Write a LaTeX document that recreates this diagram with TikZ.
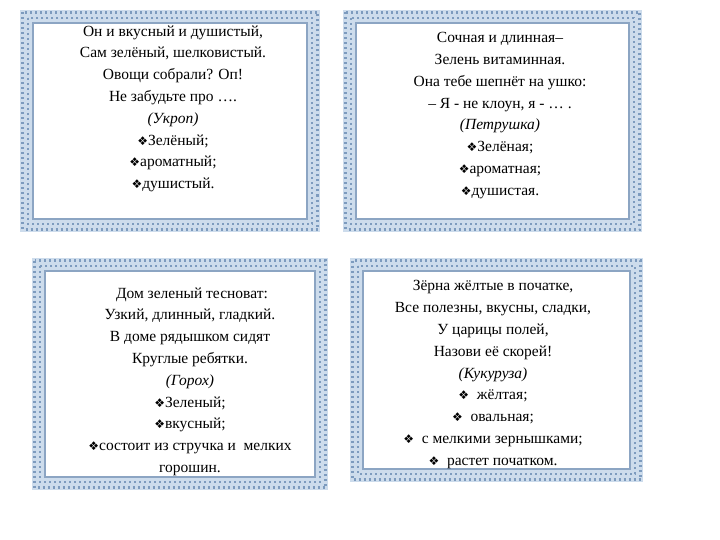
\documentclass[tikz,border=0pt]{standalone}
\usepackage{fontspec}
\setmainfont{Liberation Serif}
\newfontfamily\serf{Liberation Serif}
\newfontfamily\symf{DejaVu Sans}
\newcommand{\bul}{{\symf\fontsize{12}{12}\selectfont ❖}}
\definecolor{bandc}{RGB}{205,220,236}
\definecolor{dotc}{RGB}{125,155,190}
\definecolor{innc}{RGB}{140,165,195}
\begin{document}
\begin{tikzpicture}[x=1pt,y=-1pt,
  band/.style={draw=bandc,line width=12pt},
  dots/.style={draw=dotc,line width=2.5pt,dash pattern=on 2pt off 3pt},
  inner/.style={draw=innc,line width=1.2pt},
  txt/.style={align=center,font=\serf\fontsize{15.5}{21.8}\selectfont,anchor=north}]
\useasboundingbox (0,0) rectangle (720,540);
\newcommand{\card}[4]{%
  \draw[band] (#1+6,#2+6) rectangle (#3-6,#4-6);
  \draw[dots] (#1+2.5,#2+2.5) rectangle (#3-2.5,#4-2.5);
  \draw[dots] (#1+8,#2+8) rectangle (#3-8,#4-8);
  \draw[inner] (#1+13,#2+13) rectangle (#3-13,#4-13);}
\card{20}{10}{320}{232}
\card{343}{10}{642}{232}
\card{32}{258}{328}{490}
\card{350}{258}{643}{482}
\node[txt] (a) at (173,22) {Он и вкусный и душистый,\\Сам зелёный, шелковистый.\\Овощи собрали? Оп!\\Не забудьте про ….\\\textit{(Укроп)}\\\bul Зелёный;\\\bul ароматный;\\\bul душистый.};
\node[txt] (b) at (500,29) {Сочная и длинная–\\Зелень витаминная.\\Она тебе шепнёт на ушко:\\– Я - не клоун, я - … .\\\textit{(Петрушка)}\\\bul Зелёная;\\\bul ароматная;\\\bul душистая.};
\node[txt] (c) at (190,284) {\ Дом зеленый тесноват:\\Узкий, длинный, гладкий.\\В доме рядышком сидят\\Круглые ребятки.\\\textit{(Горох)}\\\bul Зеленый;\\\bul вкусный;\\\bul состоит из стручка и \ мелких\\горошин.};
\node[txt] (d) at (493,277) {Зёрна жёлтые в початке,\\Все полезны, вкусны, сладки,\\У царицы полей,\\Назови её скорей!\\\textit{(Кукуруза)}\\\bul\ \ жёлтая;\\\bul\ \ овальная;\\\bul\ \ с мелкими зернышками;\\\bul\ \ растет початком.};
\end{tikzpicture}
\end{document}
